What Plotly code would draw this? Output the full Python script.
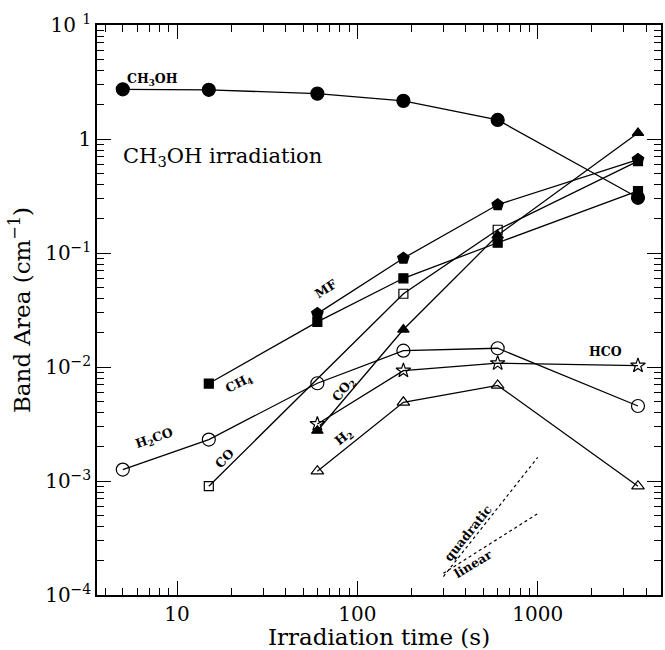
import plotly.graph_objects as go

# Irradiation times (s)
t_ch3oh = [5, 15, 60, 180, 600, 3600]
t_h2co = [5, 15, 60, 180, 600, 3600]
t_ch4 = [15, 60, 180, 600, 3600]
t_co = [15, 180, 600, 3600]
t_mf = [60, 180, 600, 3600]
t_co2 = [60, 180, 600, 3600]
t_hco = [60, 180, 600, 3600]
t_h2 = [60, 180, 600, 3600]

# Band areas (cm^-1)
a_ch3oh = [2.73, 2.70, 2.50, 2.16, 1.47, 0.305]
a_h2co = [0.00126, 0.00231, 0.0072, 0.0139, 0.0146, 0.00455]
a_ch4 = [0.00716, 0.0249, 0.060, 0.123, 0.35]
a_co = [0.0009, 0.0439, 0.160, 0.64]
a_mf = [0.0294, 0.090, 0.265, 0.66]
a_co2 = [0.00276, 0.0213, 0.143, 1.13]
a_hco = [0.00316, 0.0093, 0.0108, 0.0103]
a_h2 = [0.00122, 0.0049, 0.0069, 0.0009]

# Slope guides
t_guide = [300, 1000]
a_quadratic = [1.45e-4, 1.61e-3]
a_linear = [1.55e-4, 5.17e-4]

# Axis ticks
x_major = [10, 100, 1000]
x_major_text = ["10", "100", "1000"]
x_minor = [4, 5, 6, 7, 8, 9, 20, 30, 40, 50, 60, 70, 80, 90,
           200, 300, 400, 500, 600, 700, 800, 900, 2000, 3000, 4000]
y_major = [1e-4, 1e-3, 1e-2, 1e-1, 1, 10]
y_major_text = ["10<sup>−4</sup>", "10<sup>−3</sup>", "10<sup>−2</sup>",
                "10<sup>−1</sup>", "1", "10 <sup>1</sup>"]
y_minor = [m * 10.0 ** e for e in range(-4, 1) for m in range(2, 10)]

X_RANGE = [0.556, 3.684]
Y_RANGE = [-4, 1]

FONT = "DejaVu Serif"
LINE = dict(color="black", width=1.3)

series = [
    (t_co, a_co, "square-open", 9, "CO"),
    (t_ch3oh, a_ch3oh, "circle", 13, "CH3OH"),
    (t_h2co, a_h2co, "circle-open", 13, "H2CO"),
    (t_ch4, a_ch4, "square", 9, "CH4"),
    (t_mf, a_mf, "pentagon", 12, "MF"),
    (t_co2, a_co2, "triangle-up", 10, "CO2"),
    (t_hco, a_hco, "star-open", 11, "HCO"),
    (t_h2, a_h2, "triangle-up-open", 11, "H2"),
]

fig = go.Figure()
for xs, ys, sym, size, name in series:
    fig.add_trace(go.Scatter(
        x=xs, y=ys, mode="lines+markers", name=name,
        line=LINE,
        marker=dict(symbol=sym, size=size, color="black",
                    line=dict(color="black", width=1.2)),
    ))

for ys, name in [(a_quadratic, "quadratic"), (a_linear, "linear")]:
    fig.add_trace(go.Scatter(
        x=t_guide, y=ys, mode="lines", name=name,
        line=dict(color="black", width=1.2, dash="dot"),
    ))

# Curve labels: (text, log10 x, log10 y, angle)
labels = [
    ("CH<sub>3</sub>OH", 0.865, 0.523, 0),
    ("MF", 1.826, -1.309, -33),
    ("CH<sub>4</sub>", 1.345, -2.142, -27),
    ("H<sub>2</sub>CO", 0.876, -2.628, -19),
    ("CO", 1.262, -2.802, -46),
    ("CO<sub>2</sub>", 1.925, -2.194, -50),
    ("H<sub>2</sub>", 1.925, -2.617, -39),
    ("HCO", 3.378, -1.865, 0),
    ("quadratic", 2.616, -3.453, -51),
    ("linear", 2.644, -3.722, -31),
]
for text, lx, ly, ang in labels:
    fig.add_annotation(
        x=lx, y=ly, xref="x", yref="y", showarrow=False,
        text=f"<b>{text}</b>", textangle=ang,
        font=dict(family=FONT, size=12.5, color="black"),
    )

fig.add_annotation(
    x=0.688, y=-0.155, xref="x", yref="y", xanchor="left", showarrow=False,
    text="CH<sub>3</sub>OH irradiation",
    font=dict(family=FONT, size=21, color="black"),
)

# Ticks point inward and are repeated (major and minor) on the top/right edges
tick_common = dict(
    showline=True, linecolor="black", linewidth=1.5, mirror="allticks",
    ticks="inside", ticklen=14, tickwidth=1.3, tickcolor="black",
    showgrid=False, zeroline=False,
    tickfont=dict(family=FONT, size=20, color="black"),
)

fig.update_layout(
    xaxis=dict(
        type="log", range=X_RANGE,
        tickmode="array", tickvals=x_major, ticktext=x_major_text,
        minor=dict(tickmode="array", tickvals=x_minor, ticks="inside",
                   ticklen=7, tickwidth=1.2, tickcolor="black",
                   showgrid=False),
        title=dict(text="Irradiation time (s)", standoff=6,
                   font=dict(family=FONT, size=23, color="black")),
        **tick_common,
    ),
    yaxis=dict(
        type="log", range=Y_RANGE,
        tickmode="array", tickvals=y_major, ticktext=y_major_text,
        minor=dict(tickmode="array", tickvals=y_minor, ticks="inside",
                   ticklen=7, tickwidth=1.2, tickcolor="black",
                   showgrid=False),
        title=dict(text="Band Area (cm<sup>−1</sup>)", standoff=8,
                   font=dict(family=FONT, size=23, color="black")),
        **tick_common,
    ),
    width=665, height=650,
    margin=dict(l=97, r=2, t=25, b=49),
    paper_bgcolor="white", plot_bgcolor="white",
    showlegend=False,
)

fig.write_html("out.html")
